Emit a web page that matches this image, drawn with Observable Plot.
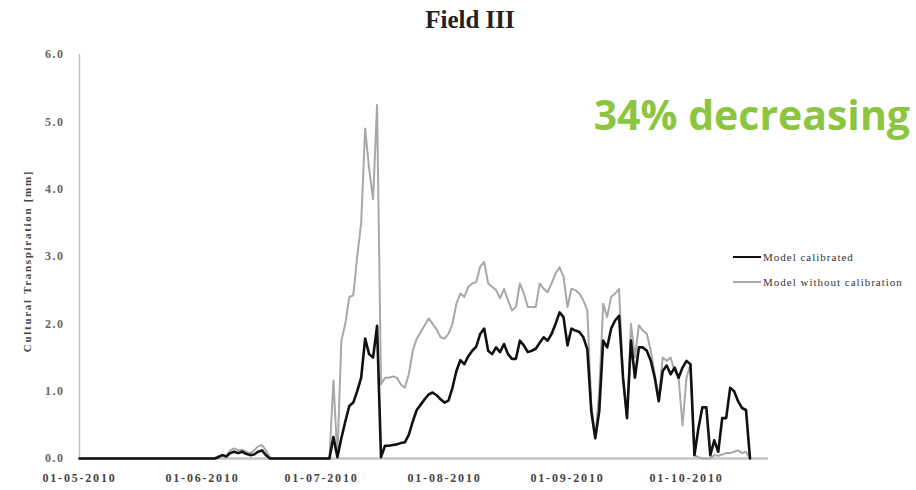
<!DOCTYPE html>
<html>
<head>
<meta charset="utf-8">
<script src="https://cdn.jsdelivr.net/npm/d3@7"></script>
<script src="https://cdn.jsdelivr.net/npm/@observablehq/plot@0.6"></script>
<style>
  body { margin: 0; background: #fff; }
  #wrap { position: relative; width: 916px; height: 490px; overflow: hidden; background: #fff; }
  #wrap svg { position: absolute; left: 0; top: 0; }
  .title { position: absolute; left: 0; width: 940px; top: 6px; text-align: center; line-height: 1;
           font: bold 25px "Liberation Serif", serif; color: #222; }
  .note { position: absolute; right: 6px; top: 86px; line-height: 1;
          font: bold 41px "Open Sans", sans-serif; color: #8cc540; white-space: nowrap; }
  .ylab { position: absolute; left: 27px; top: 261px; transform: translate(-50%, -50%) rotate(-90deg);
          white-space: nowrap; font: bold 11px "Liberation Serif", serif; letter-spacing: 1.7px; color: #444; }
  .leg { position: absolute; left: 733px; height: 14px; white-space: nowrap;
         font: 11px "Liberation Serif", serif; letter-spacing: 1px; color: #333; display: flex; align-items: center; }
  .leg .sw { display: inline-block; width: 28px; margin-right: 2px; }
  g[aria-label="x-axis tick label"] { letter-spacing: 1.8px; }
  g[aria-label="y-axis tick label"] { letter-spacing: 1.5px; }
</style>
</head>
<body>
<div id="wrap"></div>
<script>
// ---- data (daily values from 01-05-2010) ----
const startDay = "01-05-2010";
const seriesNames = ["Model calibrated", "Model without calibration"];
const tickLabels = ["01-05-2010", "01-06-2010", "01-07-2010", "01-08-2010", "01-09-2010", "01-10-2010"];
const yTicks = [0, 1, 2, 3, 4, 5, 6];

const calibrated = [
  // May
  0,0,0,0,0,0,0,0,0,0, 0,0,0,0,0,0,0,0,0,0, 0,0,0,0,0,0,0,0,0,0, 0,
  // June
  0,0,0,0, 0.02,0.05,0.03,0.08,0.10,0.08,0.10,0.07,0.05,0.06,0.10,0.12,0.05, 0, 0,0,0,0,0,0,0,0,0,0,0,0,
  // July
  0,0,0, 0.32,0.02,0.30,0.55,0.78,0.83,1.00,1.20,1.78,1.55,1.50,1.97,0.02,
  0.19,0.19,0.20,0.21,0.23,0.24,0.35,0.55,0.72,0.80,0.88,0.95,0.98,0.94,0.88,
  // August
  0.83,0.86,1.05,1.30,1.46,1.40,1.52,1.60,1.66,1.85, 1.93,1.60,1.55,1.65,1.58,1.70,1.55,1.48,1.48,1.75,
  1.68,1.58,1.60,1.63,1.72,1.80,1.75,1.85,2.00,2.17, 2.10,
  // September
  1.68,1.93,1.90,1.88,1.80,1.62,0.70,0.30,0.70,1.75, 1.65,1.93,2.05,2.12,1.20,0.60,1.75,1.20,1.65,1.65,
  1.60,1.45,1.20,0.85,1.30,1.38,1.25,1.35,1.20,1.35,
  // October
  1.45,1.40,0.05,0.45,0.76,0.76,0.05,0.27,0.10,0.60, 0.60,1.05,1.00,0.85,0.75,0.72,0
];

const withoutCalibration = [
  // May
  0,0,0,0,0,0,0,0,0,0, 0,0,0,0,0,0,0,0,0,0, 0,0,0,0,0,0,0,0,0,0, 0,
  // June
  0,0,0,0, 0.03,0.05,0.04,0.12,0.15,0.12,0.13,0.10,0.08,0.12,0.18,0.20,0.12, 0.02, 0,0,0,0,0,0,0,0,0,0,0,0,
  // July
  0,0,0, 1.16,0.02,1.75,2.00,2.40,2.42,3.00,3.50,4.90,4.30,3.85,5.25,1.10,
  1.20,1.20,1.22,1.20,1.10,1.05,1.25,1.60,1.78,1.88,1.98,2.08,2.00,1.92,1.80,
  // August
  1.78,1.85,2.00,2.30,2.45,2.40,2.55,2.60,2.62,2.85, 2.92,2.60,2.55,2.50,2.38,2.52,2.35,2.20,2.25,2.60,
  2.45,2.25,2.25,2.25,2.60,2.52,2.47,2.60,2.75,2.84, 2.70,
  // September
  2.25,2.52,2.50,2.45,2.35,2.20,0.80,0.30,1.00,2.30, 2.10,2.40,2.45,2.52,1.20,0.60,2.00,1.50,1.98,1.90,
  1.85,1.60,1.25,0.90,1.50,1.45,1.50,1.30,1.20,0.49,
  // October
  1.20,1.40,0.05,0.02,0,0,0,0.05,0.04,0.06, 0.08,0.08,0.10,0.12,0.08,0.10,0
];

// ---- build table ----
const parse = d3.utcParse("%d-%m-%Y");
const t0 = parse(startDay);
const rows = [];
[calibrated, withoutCalibration].forEach((arr, s) => {
  arr.forEach((v, i) => rows.push({ series: seriesNames[s], date: d3.utcDay.offset(t0, i), value: v }));
});
const tickDates = tickLabels.map(parse);
const xEnd = new Date(Date.UTC(2010, 9, 21, 16));

const chart = Plot.plot({
  width: 916,
  height: 490,
  marginLeft: 79,
  marginRight: 148,
  marginTop: 54,
  marginBottom: 32,
  style: { fontFamily: '"Liberation Serif", serif', background: "#fff" },
  x: { type: "utc", domain: [t0, xEnd] },
  y: { domain: [0, 6] },
  marks: [
    Plot.axisY({ ticks: yTicks, tickFormat: d3.format(".1f"), tickSize: 0, tickPadding: 15,
                 fontSize: 12, fontWeight: "bold", fill: "#666", label: null }),
    Plot.axisX({ ticks: tickDates, tickFormat: d3.utcFormat("%d-%m-%Y"), tickSize: 0, tickPadding: 15,
                 fontSize: 12, fontWeight: "bold", fill: "#444", label: null }),
    Plot.ruleX([t0], { stroke: "#c4c4c4", strokeWidth: 1.5 }),
    Plot.ruleY([0], { stroke: "#c4c4c4", strokeWidth: 2.5 }),
    Plot.line(rows.filter(d => d.series === seriesNames[1]), { x: "date", y: "value", stroke: "#a8a8a8", strokeWidth: 2 }),
    Plot.line(rows.filter(d => d.series === seriesNames[0]), { x: "date", y: "value", stroke: "#111", strokeWidth: 2.6 })
  ]
});

const wrap = document.getElementById("wrap");
wrap.appendChild(chart);

function addDiv(cls, html, style) {
  const d = document.createElement("div");
  d.className = cls;
  d.innerHTML = html;
  if (style) Object.assign(d.style, style);
  wrap.appendChild(d);
  return d;
}
addDiv("title", "Field III");
addDiv("note", "34% decreasing");
addDiv("ylab", "Cultural Transpiration [mm]");
addDiv("leg", '<span class="sw" style="border-top:2.6px solid #111"></span>' + seriesNames[0], { top: "250px" });
addDiv("leg", '<span class="sw" style="border-top:2px solid #a8a8a8"></span>' + seriesNames[1], { top: "275px" });
</script>
</body>
</html>
